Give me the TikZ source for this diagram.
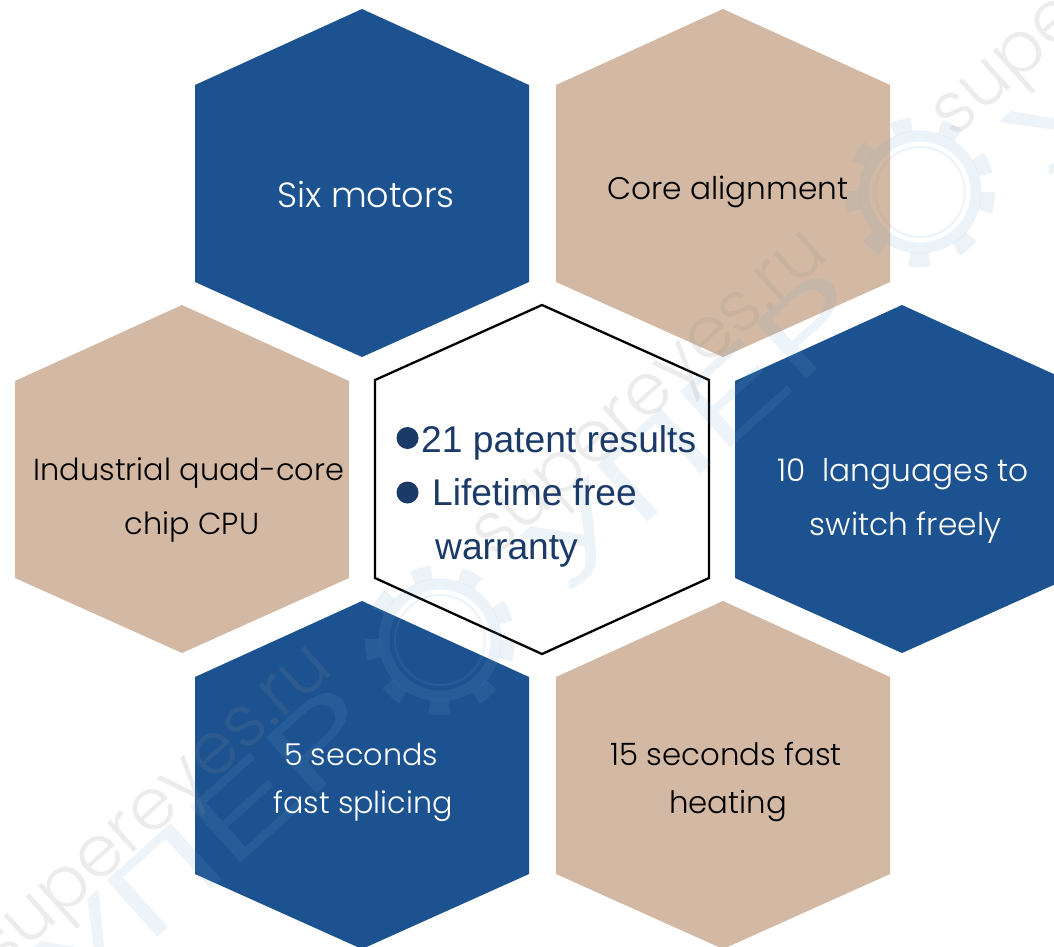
\documentclass[tikz,border=0pt]{standalone}
\usepackage{fontspec}
\setmainfont{Poppins}[UprightFont=* Light]
\newfontfamily\arialf{Liberation Sans}
\definecolor{hexblue}{HTML}{1D5290}
\definecolor{hextan}{HTML}{D3B9A3}
\definecolor{navytext}{HTML}{1B3A68}
\definecolor{wmgray}{HTML}{8C8C8C}
\definecolor{wmblue}{HTML}{6FA6D0}
\tikzset{
  hexblock/.style={fill=#1,draw=none},
  hexlabel/.style={align=center,inner sep=0pt,font=\fontsize{#1}{48}\selectfont},
  wmtext/.style={text=wmgray,opacity=.16,rotate=42,inner sep=0pt,font=\fontsize{72}{72}\selectfont},
  wmtextb/.style={text=wmblue,opacity=.12,rotate=42,xscale=1.4,inner sep=0pt,font=\arialf\fontsize{110}{110}\selectfont},
  wmgear/.style={draw=wmblue,opacity=.13},
  bulletdot/.style={circle,fill=navytext,minimum size=22pt,inner sep=0pt},
  centertext/.style={anchor=base west,inner sep=0pt,text=navytext,font=\arialf\fontsize{37.2}{37.2}\selectfont}
}
\newcommand{\hexat}[3]{% cx, top y, colour
  \fill[hexblock=#3] (#1,#2) -- ++(167,76) -- ++(0,197) -- ++(-167,75) -- ++(-167,-75) -- ++(0,-197) -- cycle;}
\newcommand{\gearat}[2]{%
  \draw[wmgear,line width=14pt,dash pattern=on 20pt off 28.7pt] (#1,#2) circle (68);
  \draw[wmgear,line width=11pt] (#1,#2) circle (56);
  \draw[wmgear,line width=2pt] (#1,#2) circle (45);}
\begin{document}
\begin{tikzpicture}[x=1pt,y=-1pt]
\useasboundingbox (0,0) rectangle (1054,946);
\clip (0,0) rectangle (1054,946);
\fill[white] (0,0) rectangle (1054,946);

\hexat{362}{9}{hexblue}
\hexat{723}{9}{hextan}
\hexat{182}{305}{hextan}
\hexat{902}{305}{hexblue}
\hexat{362}{601}{hexblue}
\hexat{723}{601}{hextan}

\draw[black,line width=2.3pt,fill=white,line join=miter]
  (542,305) -- (709,380) -- (709,578) -- (542,654) -- (375,578) -- (375,380) -- cycle;

% watermark
\node[wmtext] (wm1) at (655,400) {supereyes.ru};
\node[wmtext] (wm2) at (160,815) {supereyes.ru};
\node[wmtext] (wm3) at (1115,-20) {supereyes.ru};
\node[wmtextb] (wm4) at (695,430) {УПЕР};
\node[wmtextb] (wm5) at (205,845) {УПЕР};
\node[wmtextb] (wm6) at (1175,15) {УПЕР};
\gearat{920}{192}
\gearat{440}{640}

% labels
\node[hexlabel=35,text=white] (t1) at (366,194) {Six motors};
\node[hexlabel=31.2,text=black] (t2) at (728,192) {Core alignment};
\node[hexlabel=30.4,text=black] (t3) at (189,500) {Industrial quad-core\\[6pt]\hspace*{6pt}chip CPU};
\node[hexlabel=31.2,text=white] (t4) at (903,501) {10\ \ languages to\\[6pt]\hspace*{5pt}switch freely};
\node[hexlabel=30.2,text=white] (t5) at (361,782) {5 seconds\\\hspace*{4pt}fast splicing};
\node[hexlabel=30.8,text=black] (t6) at (726,782) {15 seconds fast\\\hspace*{4pt}heating};

% centre text
\node[bulletdot] (b1) at (407.5,438) {};
\node[bulletdot] (b2) at (407.5,492.5) {};
\node[centertext] (c1) at (421,452) {21 patent results};
\node[centertext] (c2) at (432,505) {Lifetime free};
\node[centertext] (c3) at (435,559) {warranty};
\end{tikzpicture}
\end{document}
